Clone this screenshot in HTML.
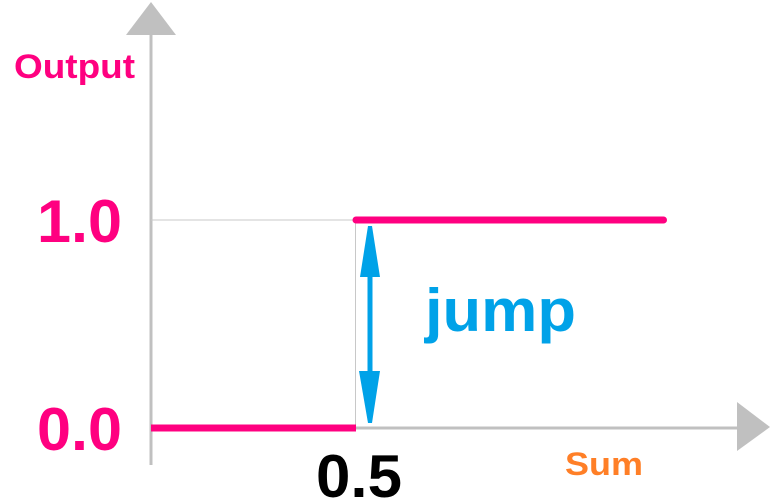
<!DOCTYPE html>
<html><head><meta charset="utf-8"><style>
html,body{margin:0;padding:0;background:#fff;width:775px;height:500px;overflow:hidden}
text{font-family:"Liberation Sans",Arial,sans-serif;font-weight:bold}
</style></head><body>
<svg id="chart" width="775" height="500" viewBox="0 0 775 500" xmlns="http://www.w3.org/2000/svg">
<g>
<line x1="151" y1="34" x2="151" y2="465" stroke="#c0c0c0" stroke-width="3"/>
<polygon points="126,35 176,35 151,2" fill="#c0c0c0"/>
</g>
<g>
<line x1="151" y1="428" x2="738" y2="428" stroke="#c0c0c0" stroke-width="3"/>
<polygon points="737,402 737,451 770,427" fill="#c0c0c0"/>
</g>
<g id="guides"></g>
<g id="marks"></g>
<g>
<line x1="370" y1="270" x2="370" y2="380" stroke="#00a2e8" stroke-width="5"/>
<polygon points="360,277 380,277 372,226 368,226" fill="#00a2e8"/>
<polygon points="359,371 380,371 372,423 368,423" fill="#00a2e8"/>
</g>
<text x="425" y="331" font-size="60" fill="#00a2e8" textLength="151" lengthAdjust="spacingAndGlyphs">jump</text>
<text x="14" y="78" font-size="34" fill="#ff0080" textLength="121" lengthAdjust="spacingAndGlyphs">Output</text>
<text x="565" y="475" font-size="32" fill="#ff7f27" textLength="78" lengthAdjust="spacingAndGlyphs">Sum</text>
<g id="ticks"></g>
</svg>
<script>
const stepX = [0, 0.5, 1.25];
const stepY = [0, 1];
const yTickValues = [1.0, 0.0];
const yTickLabels = ["1.0", "0.0"];
const xTickValues = [0.5];
const xTickLabels = ["0.5"];
const NS = "http://www.w3.org/2000/svg";
function sx(v){return 151 + v*410;}
function sy(v){return 428 - v*208;}
const marks = document.getElementById('marks');
const guides = document.getElementById('guides');
const ticks = document.getElementById('ticks');
for (let i=0;i<stepY.length;i++){
  const l = document.createElementNS(NS,'line');
  l.setAttribute('x1', sx(stepX[i])); l.setAttribute('x2', sx(stepX[i+1]));
  l.setAttribute('y1', sy(stepY[i])); l.setAttribute('y2', sy(stepY[i]));
  l.setAttribute('stroke','#ff0080'); l.setAttribute('stroke-width','7');
  if (i===stepY.length-1) l.setAttribute('stroke-linecap','round');
  
  
  marks.appendChild(l);
}
const g1 = document.createElementNS(NS,'line');
g1.setAttribute('x1', sx(0)); g1.setAttribute('x2', sx(stepX[1]));
g1.setAttribute('y1', sy(stepY[1])); g1.setAttribute('y2', sy(stepY[1]));
g1.setAttribute('stroke','#c8c8c8'); g1.setAttribute('stroke-width','1');


guides.appendChild(g1);
const g2 = document.createElementNS(NS,'line');
g2.setAttribute('x1', sx(stepX[1])-0.5); g2.setAttribute('x2', sx(stepX[1])-0.5);
g2.setAttribute('y1', sy(stepY[1])); g2.setAttribute('y2', sy(stepY[0]));
g2.setAttribute('stroke','#c8c8c8'); g2.setAttribute('stroke-width','1');


guides.appendChild(g2);
for (let i=0;i<yTickValues.length;i++){
  const t = document.createElementNS(NS,'text');
  t.setAttribute('x', 37); t.setAttribute('y', sy(yTickValues[i])+22);
  t.setAttribute('font-size','60'); t.setAttribute('fill','#ff0080');
  t.setAttribute('textLength','85'); t.setAttribute('lengthAdjust','spacingAndGlyphs');
  t.textContent = yTickLabels[i];
  
  
  ticks.appendChild(t);
}
for (let i=0;i<xTickValues.length;i++){
  const t = document.createElementNS(NS,'text');
  t.setAttribute('x', sx(xTickValues[i])-40); t.setAttribute('y', 497);
  t.setAttribute('font-size','60'); t.setAttribute('fill','#000');
  t.setAttribute('textLength','86'); t.setAttribute('lengthAdjust','spacingAndGlyphs');
  t.textContent = xTickLabels[i];
  
  
  ticks.appendChild(t);
}
</script>
</body></html>
